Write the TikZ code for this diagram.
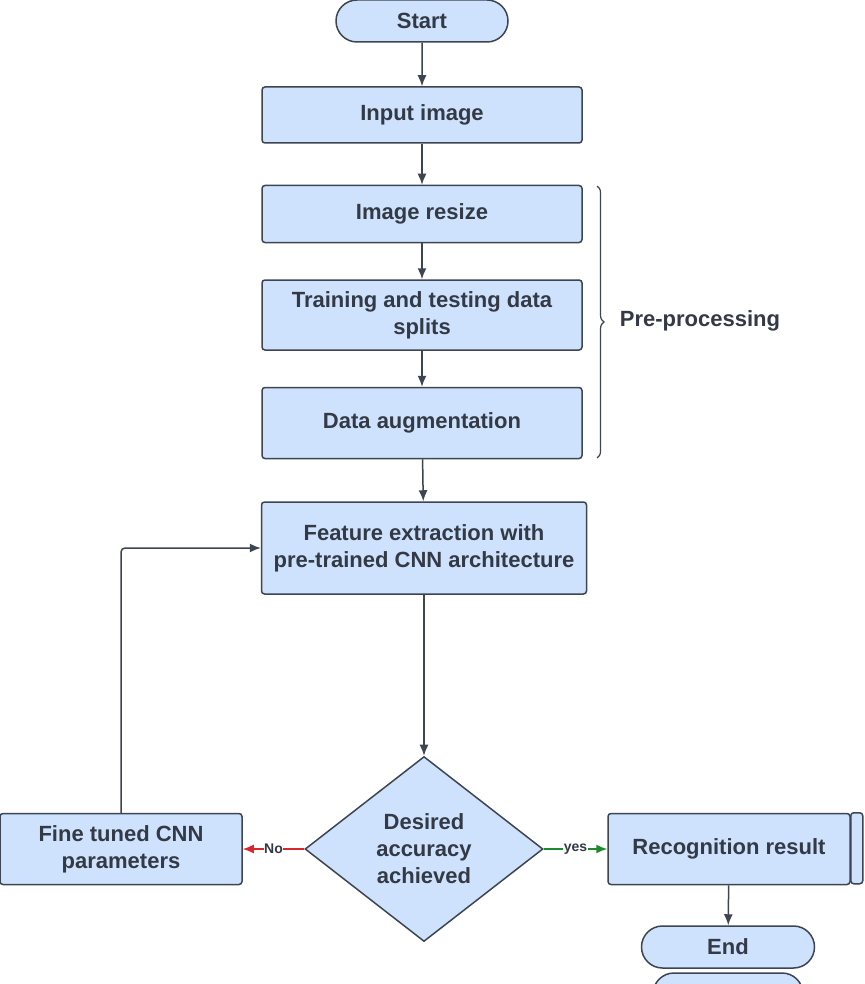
\documentclass[tikz,border=0pt]{standalone}
\usepackage{fontspec}
\setmainfont{Liberation Sans}
\usetikzlibrary{arrows.meta,shapes.geometric,shapes.misc,decorations.pathreplacing}

\definecolor{boxfill}{HTML}{CFE2FD}
\definecolor{boxline}{HTML}{3D4550}
\definecolor{txt}{HTML}{333A45}
\definecolor{nored}{HTML}{D9262A}
\definecolor{yesgreen}{HTML}{1E8A2E}

\tikzset{
  stepbox/.style={draw=boxline,fill=boxfill,line width=1.5pt,rounded corners=3pt,minimum width=320pt,align=center,text=txt,font=\fontsize{22}{27}\selectfont\bfseries,inner sep=0pt},
  termbox/.style={draw=boxline,fill=boxfill,line width=1.5pt,rounded rectangle,minimum width=172pt,minimum height=42pt,inner sep=0pt,text=txt,font=\fontsize{22}{27}\selectfont\bfseries},
  decbox/.style={draw=boxline,fill=boxfill,line width=1.5pt,diamond,aspect=1.3,minimum width=238pt,minimum height=185pt,inner sep=0pt,align=center,text=txt,font=\fontsize{22}{27}\selectfont\bfseries},
  flow/.style={draw=boxline,line width=1.5pt,-{Latex[length=11pt,width=9pt]}},
  lbl/.style={fill=white,inner sep=0.5pt,text=txt,font=\fontsize{14}{16}\selectfont\bfseries}
}

\begin{document}
\begin{tikzpicture}[x=1pt,y=-1pt]
  \useasboundingbox[fill=white] (0,0) rectangle (864,984);

  % stacked shape behind End
  \node (endback) at (728,994) [termbox,minimum width=150pt] {};

  \node (start) at (422,21) [termbox] {Start};
  \node (input) at (422,115) [stepbox,minimum height=56pt] {Input image};
  \node (resize) at (422,214) [stepbox,minimum height=57pt] {Image resize};
  \node (split) at (422,315) [stepbox,minimum height=70pt] {Training and testing data\\splits};
  \node (augment) at (422,423) [stepbox,minimum height=71pt] {Data augmentation};
  \node (feat) at (424,548) [stepbox,minimum width=325pt,minimum height=92pt] {Feature extraction with\\pre-trained CNN architecture};
  \node (dec) at (424,849) [decbox] {Desired\\accuracy\\achieved};
  \node (fine) at (121,849) [stepbox,minimum width=242pt,minimum height=71pt] {Fine tuned CNN\\parameters};
  \node (result) at (729,849) [stepbox,minimum width=242pt,minimum height=71pt] {Recognition result};
  \node (end) at (728,947) [termbox,minimum width=173pt] {End};

  % side bar of the result box
  \draw[draw=boxline,fill=boxfill,line width=1.5pt,rounded corners=3pt] (result.north east) rectangle ++(12,71);

  % pre-processing brace
  \draw[draw=boxline,line width=1.2pt,decorate,decoration={brace,amplitude=7pt}] (597,186) -- (597,458);
  \node (pre) at (700,321) [text=txt,font=\fontsize{22}{27}\selectfont\bfseries] {Pre-processing};

  \draw[flow] (start) -- (input);
  \draw[flow] (input) -- (resize);
  \draw[flow] (resize) -- (split);
  \draw[flow] (split) -- (augment);
  \draw[flow] (augment) -- (feat);
  \draw[flow] (feat) -- (dec);
  \draw[flow,rounded corners=4pt] (fine.north) |- (feat.west);

  \draw[flow,draw=nored,-{Latex[length=11pt,width=9pt,nored]}] (dec.west) -- node[lbl]{No} (fine.east);
  \draw[flow,draw=yesgreen,-{Latex[length=11pt,width=9pt,yesgreen]}] (dec.east) -- node[lbl]{yes} (result.west);
  \draw[flow] (result) -- (end);
\end{tikzpicture}
\end{document}
